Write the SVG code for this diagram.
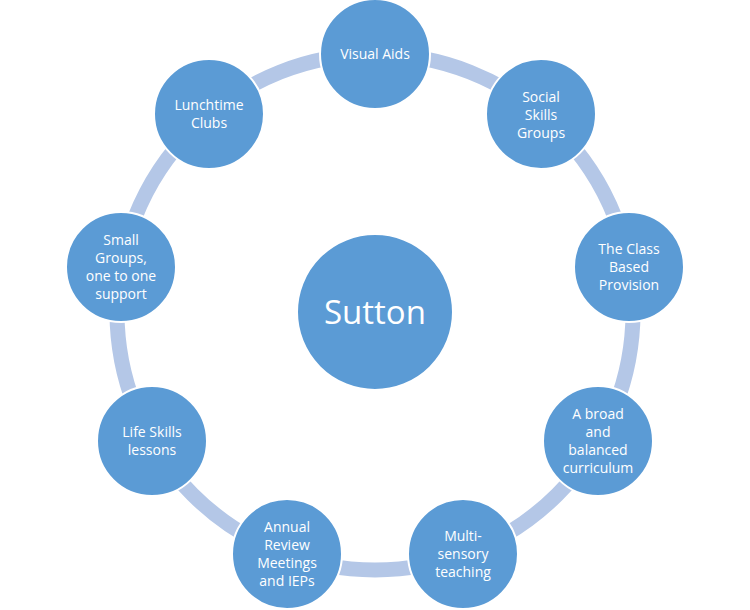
<svg xmlns="http://www.w3.org/2000/svg" width="750" height="610" viewBox="0 0 750 610">
<style>
.n{fill:#5b9bd5;stroke:#ffffff;stroke-width:2}
.t{font-family:"Open Sans","Noto Sans",sans-serif;font-size:14px;fill:#ffffff;text-anchor:middle}
.c{font-family:"Open Sans","Noto Sans",sans-serif;font-size:33px;fill:#ffffff;text-anchor:middle}
</style>
<rect width="750" height="610" fill="#ffffff"/>
<g id="connectors">
<circle cx="375" cy="312" r="258" fill="none" stroke="#b4c7e7" stroke-width="15"/>
</g>
<g id="center"><circle class="n" cx="375" cy="312" r="78"/><text class="c" x="375" y="324">Sutton</text></g>
<g id="visual-aids"><circle class="n" cx="375" cy="54" r="55"/><text class="t" x="375" y="59">Visual Aids</text></g>
<g id="social-skills"><circle class="n" cx="541" cy="114" r="55"/><text class="t" x="541" y="102">Social</text><text class="t" x="541" y="120">Skills</text><text class="t" x="541" y="138">Groups</text></g>
<g id="class-based"><circle class="n" cx="629" cy="267" r="55"/><text class="t" x="629" y="254">The Class</text><text class="t" x="629" y="272">Based</text><text class="t" x="629" y="290">Provision</text></g>
<g id="curriculum"><circle class="n" cx="598" cy="441" r="55"/><text class="t" x="598" y="419">A broad</text><text class="t" x="598" y="437">and</text><text class="t" x="598" y="455">balanced</text><text class="t" x="598" y="473">curriculum</text></g>
<g id="multi-sensory"><circle class="n" cx="463" cy="554" r="55"/><text class="t" x="463" y="541">Multi-</text><text class="t" x="463" y="559">sensory</text><text class="t" x="463" y="577">teaching</text></g>
<g id="annual-review"><circle class="n" cx="287" cy="554" r="55"/><text class="t" x="287" y="532">Annual</text><text class="t" x="287" y="550">Review</text><text class="t" x="287" y="568">Meetings</text><text class="t" x="287" y="586">and IEPs</text></g>
<g id="life-skills"><circle class="n" cx="152" cy="441" r="55"/><text class="t" x="152" y="437">Life Skills</text><text class="t" x="152" y="455">lessons</text></g>
<g id="small-groups"><circle class="n" cx="121" cy="267" r="55"/><text class="t" x="121" y="245">Small</text><text class="t" x="121" y="263">Groups,</text><text class="t" x="121" y="281">one to one</text><text class="t" x="121" y="299">support</text></g>
<g id="lunchtime-clubs"><circle class="n" cx="209" cy="114" r="55"/><text class="t" x="209" y="110">Lunchtime</text><text class="t" x="209" y="128">Clubs</text></g>
</svg>
